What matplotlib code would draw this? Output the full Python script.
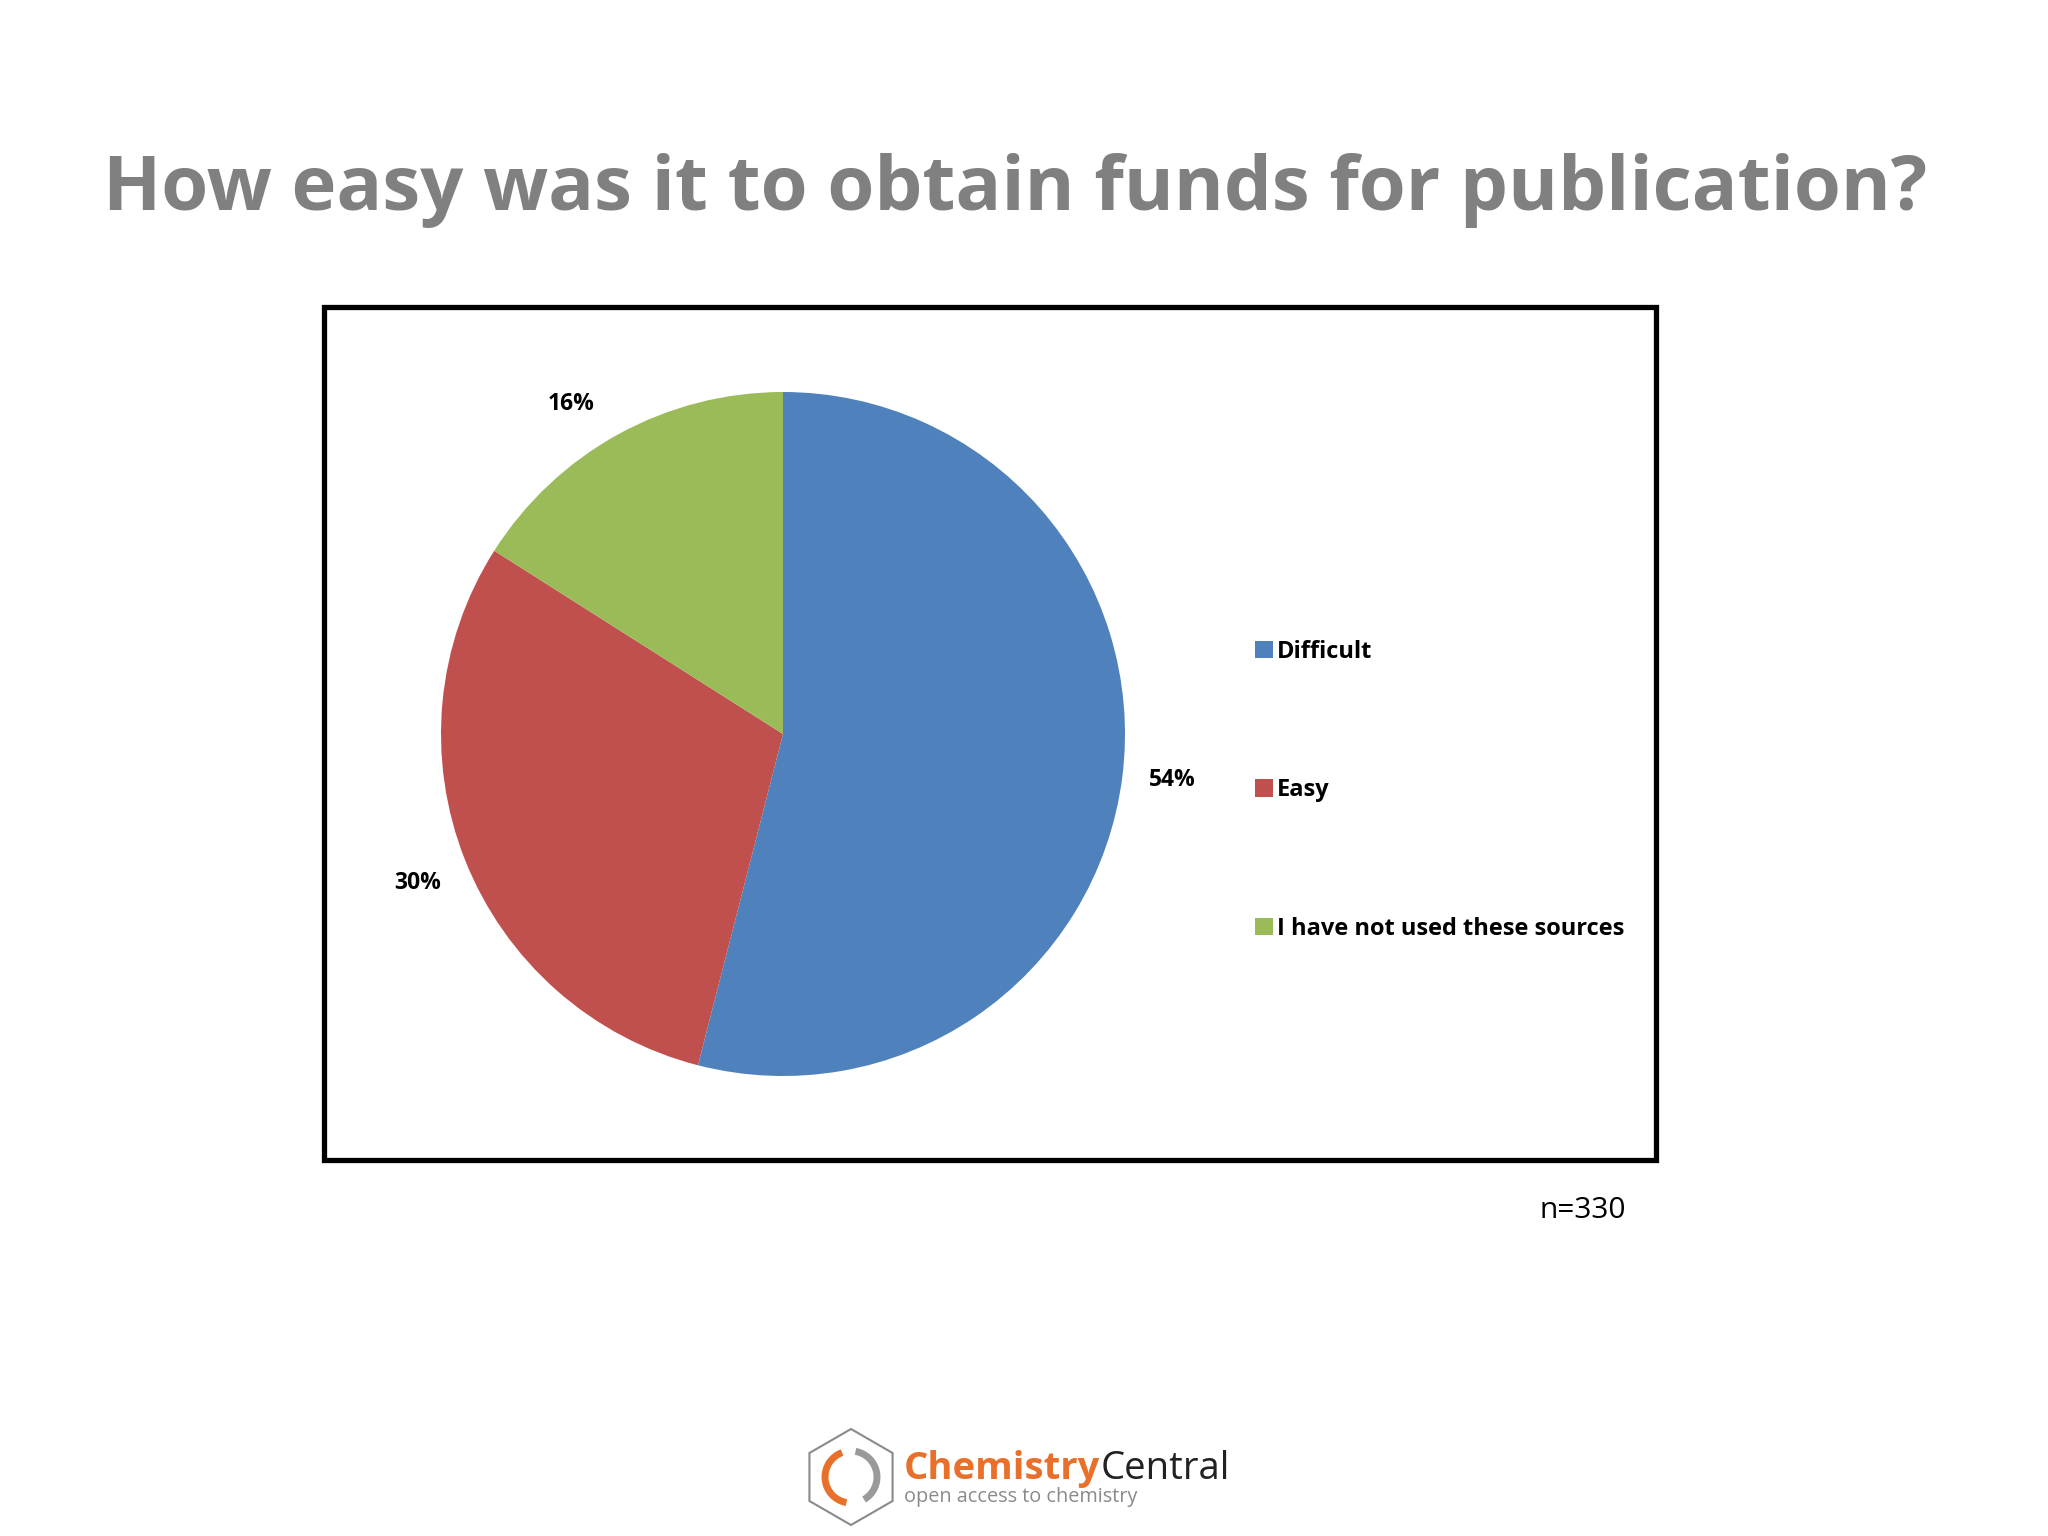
import matplotlib
matplotlib.use("Agg")
import matplotlib.pyplot as plt
from matplotlib.patches import Rectangle, RegularPolygon, Arc
import matplotlib.transforms as mtransforms

categories = ["Difficult", "Easy", "I have not used these sources"]
values = [54, 30, 16]
colors = ["#4F81BD", "#C0504D", "#9BBB59"]
title = "How easy was it to obtain funds for publication?"
note = "n=330"

plt.rcParams['font.family'] = ['Open Sans', 'DejaVu Sans']

W, H = 2048, 1536
fig = plt.figure(figsize=(W / 100, H / 100), dpi=100)
fig.patch.set_facecolor("white")

def fx(x): return x / W
def fy(y): return 1 - y / H

# Title
fig.text(fx(1015), fy(190), title, ha="center", va="center",
         fontsize=54.7, fontweight="bold", color="#808080")

# Chart frame
fig.patches.append(Rectangle((fx(324), fy(1160)), fx(1656) - fx(324), fy(307) - fy(1160),
                             transform=fig.transFigure, fill=False, lw=3.8,
                             edgecolor="black", zorder=5))

# Pie
cx, cy, r = 783, 734, 342
ax = fig.add_axes([fx(cx - r), fy(cy + r), 2 * r / W, 2 * r / H])
wedges, texts, autotexts = ax.pie(values, colors=colors, startangle=90, counterclock=False,
                                  autopct=lambda p: f"{p:.0f}%", pctdistance=1.15,
                                  wedgeprops=dict(linewidth=0),
                                  textprops=dict(fontsize=16.5, fontweight="bold", color="black"))
# fine-tune label placement (as in the original layout)
label_pos = [(1.138, -0.135), (-1.069, -0.435), (-0.619, 0.966)]
for t, p in zip(autotexts, label_pos):
    t.set_position(p)
ax.set_xlim(-1, 1)
ax.set_ylim(-1, 1)
ax.set_aspect("equal")
ax.axis("off")

# Legend
leg = fig.legend(wedges, categories, loc="upper left",
                 bbox_to_anchor=(fx(1243), fy(628)), frameon=False,
                 prop=dict(size=17, weight="bold"), handlelength=0.75, handleheight=0.75,
                 handletextpad=0.2, labelspacing=4.85, borderpad=0)

# n=330
fig.text(fx(1583), fy(1210), note, ha="center", va="center", fontsize=21.5, color="black")

# Logo
lax = fig.add_axes([0, 0, 1, 1], facecolor="none")
lax.set_xlim(0, W)
lax.set_ylim(H, 0)
lax.axis("off")
lax.add_patch(RegularPolygon((851, 1477), numVertices=6, radius=48, orientation=0,
                             fill=False, edgecolor="#8a8a8a", lw=1.5))
lax.add_patch(Arc((851, 1477), 52, 52, theta1=100, theta2=250, color="#E8702A", lw=5))
lax.add_patch(Arc((851, 1477), 52, 52, theta1=-80, theta2=60, color="#9a9a9a", lw=5))
t1 = lax.text(904, 1469, "Chemistry", ha="left", va="center", fontsize=27.5,
              fontweight="bold", color="#E8702A")
fig.canvas.draw()
bb = t1.get_window_extent()
lax.text(bb.x1, 1469, "Central", ha="left", va="center", fontsize=27.5,
         color="#222222", transform=mtransforms.blended_transform_factory(
             mtransforms.IdentityTransform(), lax.transData))
lax.text(904, 1497, "open access to chemistry", ha="left", va="center", fontsize=14.3,
         color="#8a8a8a")

fig.savefig("out.png", dpi=100, facecolor="white")
